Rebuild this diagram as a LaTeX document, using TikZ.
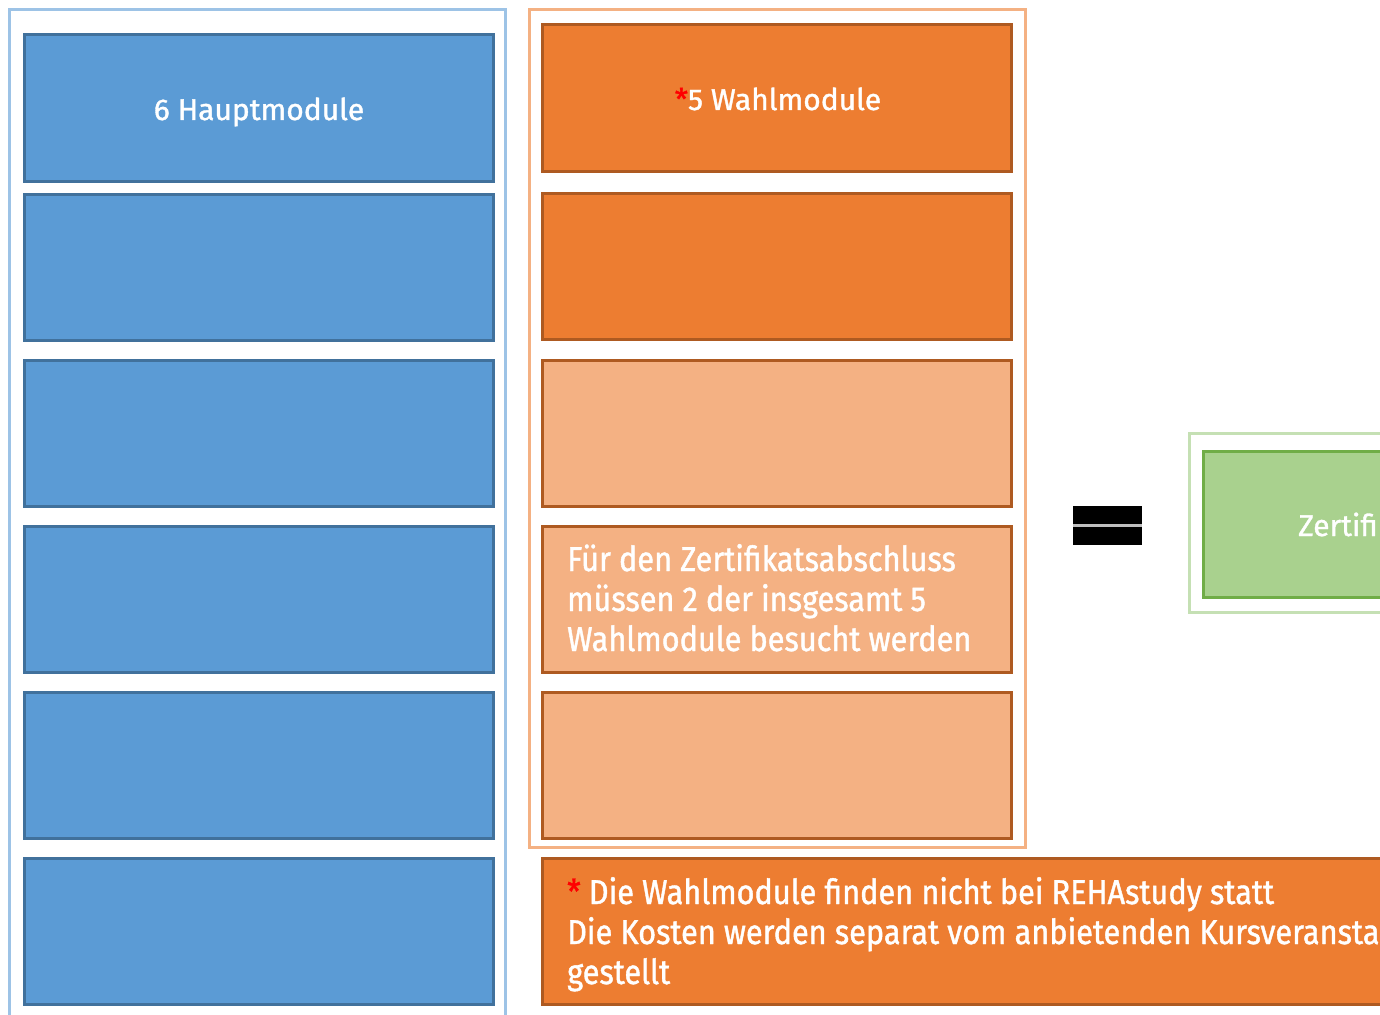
\documentclass[tikz,border=0pt]{standalone}
\usepackage{fontspec}
\setmainfont{Fira Sans}[FakeStretch=0.89, FakeBold=1.2]
\newfontfamily\headfont{Fira Sans}[FakeStretch=1.0, FakeBold=1.2]
\definecolor{bfill}{HTML}{5B9BD5}
\definecolor{bline}{HTML}{41719C}
\definecolor{bframe}{HTML}{9DC3E6}
\definecolor{ofill}{HTML}{ED7D31}
\definecolor{oline}{HTML}{AE5A21}
\definecolor{olight}{HTML}{F4B183}
\definecolor{gfill}{HTML}{A9D18E}
\definecolor{gline}{HTML}{70AD47}
\definecolor{gframe}{HTML}{C5E0B4}
\definecolor{star}{HTML}{FF0000}
\tikzset{
  box/.style={draw, line width=3pt, rectangle, inner sep=0pt, outer sep=0pt, anchor=north west},
  bluebox/.style={box, fill=bfill, draw=bline, minimum width=469pt, minimum height=146pt},
  orangebox/.style={box, fill=ofill, draw=oline, minimum width=469pt, minimum height=146pt},
  lightbox/.style={box, fill=olight, draw=oline, minimum width=469pt, minimum height=146pt},
  frame/.style={draw, line width=3pt, rectangle, inner sep=0pt, outer sep=0pt, anchor=north west},
  headtxt/.style={text=white, font=\headfont\fontsize{30}{36}\selectfont, inner sep=0pt},
  bodytxt/.style={text=white, font=\fontsize{34.5}{40}\selectfont, align=left, inner sep=0pt},
}
\begin{document}
\begin{tikzpicture}[x=1pt,y=-1pt]
\useasboundingbox (0,0) rectangle (1380,1014);
\clip (0,0) rectangle (1380,1014);
% frames
\node[frame, draw=bframe, minimum width=495.5pt, minimum height=1020pt] (bf) at (9.5,9.5) {};
\node[frame, draw=olight, minimum width=495.5pt, minimum height=837.5pt] (of) at (529.5,9.5) {};
\node[frame, draw=gframe, minimum width=260pt, minimum height=179pt] (gf) at (1189.5,433.5) {};
% blue column
\node[bluebox] (h1) at (24.5,35) {};
\node[bluebox] (h2) at (24.5,194) {};
\node[bluebox] (h3) at (24.5,360) {};
\node[bluebox] (h4) at (24.5,526) {};
\node[bluebox] (h5) at (24.5,692) {};
\node[bluebox] (h6) at (24.5,858) {};
\node[headtxt, anchor=base] (ht) at (259,120) {6 Hauptmodule};
% orange column
\node[orangebox] (w1) at (542.5,25) {};
\node[orangebox] (w2) at (542.5,193) {};
\node[lightbox] (w3) at (542.5,360) {};
\node[lightbox] (w4) at (542.5,526) {};
\node[lightbox] (w5) at (542.5,692) {};
\node[headtxt, anchor=base] (wt) at (778,110) {\textcolor{star}{*}5 Wahlmodule};
\node[bodytxt, anchor=base west] (wtxt) at (567,651) {Für den Zertifikatsabschluss\\müssen 2 der insgesamt 5\\Wahlmodule besucht werden};
% equals sign
\fill[black!25] (1073,506) rectangle (1142,545);
\fill[black] (1073,506) rectangle (1142,524);
\fill[black] (1073,527) rectangle (1142,545);
% green result
\node[box, fill=gfill, draw=gline, minimum width=250pt, minimum height=146pt] (z) at (1203.5,451.5) {};
\node[headtxt, anchor=base west] (zt) at (1298,536) {Zertifikat};
% bottom note
\node[orangebox, minimum width=900pt] (note) at (542.5,858) {};
\node[bodytxt, anchor=base west] (nt) at (567,984) {\textcolor{star}{*} Die Wahlmodule finden nicht bei REHAstudy statt\\Die Kosten werden separat vom anbietenden Kursveranstalter in Rechnung\\gestellt};
\end{tikzpicture}
\end{document}
